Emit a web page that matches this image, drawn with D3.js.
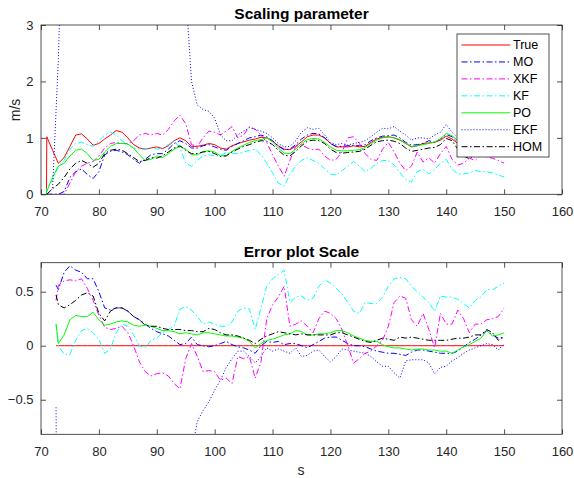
<!DOCTYPE html>
<html>
<head>
<meta charset="utf-8">
<script src="https://cdn.jsdelivr.net/npm/d3@7"></script>
<style>
body { margin: 0; background: #fff; }
text { font-family: "Liberation Sans", Arial, Helvetica, sans-serif; }
</style>
</head>
<body>
<script>
// time axes (s). top panel starts with the t=71 step, error panel starts at 72.6
var tTop = [70.95].concat(d3.range(71, 151));
var tErr = [72.6].concat(d3.range(73, 151));

var seriesNames = ["True", "MO", "XKF", "KF", "PO", "EKF", "HOM"];
var xTicks = [70, 80, 90, 100, 110, 120, 130, 140, 150, 160];
var yTicksTop = [0, 1, 2, 3];
var yTicksErr = [-0.5, 0, 0.5];

// ---- Scaling parameter (m/s) ----
var trueTop = [0,
  1.02, 0.78, 0.55, 0.65, 0.85, 1.05, 1.07, 0.98, 0.87, 0.9,
  0.98, 1.05, 1.13, 1.1, 1.0, 0.88, 0.82, 0.8, 0.82, 0.84,
  0.81, 0.86, 0.95, 1.0, 0.95, 0.85, 0.85, 0.87, 0.9, 0.88,
  0.82, 0.8, 0.86, 0.9, 0.93, 0.96, 0.98, 1.01, 1.0, 0.94,
  0.86, 0.8, 0.79, 0.85, 0.93, 1.02, 1.05, 1.05, 1.0, 0.9,
  0.84, 0.84, 0.84, 0.86, 0.84, 0.85, 0.92, 0.98, 1.01, 1.02,
  1.0, 0.96, 0.9, 0.84, 0.86, 0.9, 0.91, 0.92, 0.96, 1.03,
  0.98, 0.9, 0.86, 0.88, 0.92, 0.95, 0.98, 0.96, 0.92, 0.9];
var moTop = [0,
  0, 0, 0, 0.05, 0.3, 0.4, 0.45, 0.35, 0.28, 0.4,
  0.7, 0.76, 0.78, 0.75, 0.7, 0.62, 0.55, 0.62, 0.7, 0.72,
  0.72, 0.8, 0.9, 0.95, 0.9, 0.82, 0.82, 0.86, 0.88, 0.84,
  0.8, 0.78, 0.85, 0.9, 0.95, 1.0, 1.02, 1.05, 1.02, 0.95,
  0.85, 0.79, 0.8, 0.88, 0.98, 1.05, 1.08, 1.07, 1.0, 0.9,
  0.85, 0.85, 0.86, 0.87, 0.86, 0.88, 0.95, 1.0, 1.03, 1.04,
  1.05, 1.0, 0.92, 0.87, 0.88, 0.9, 0.95, 0.92, 0.98, 1.06,
  1.02, 0.92, 0.88, 0.9, 0.93, 0.96, 0.98, 0.97, 0.95, 0.93];
var xkfTop = [0,
  0, 0, 0, 0, 0.2, 0.4, 0.5, 0.55, 0.58, 0.68,
  0.82, 0.9, 0.92, 0.9, 0.9, 0.95, 1.05, 1.08, 1.05, 1.08,
  1.05, 1.15, 1.3, 1.4, 1.25, 0.88, 0.85, 1.0, 1.12, 1.1,
  1.05, 1.12, 1.2, 1.0, 1.05, 1.2, 1.15, 1.05, 0.92, 0.7,
  0.5, 0.32, 0.6, 0.85, 0.88, 0.82, 0.79, 0.8, 0.68, 0.6,
  0.62, 0.75, 1.0, 1.02, 0.9, 0.72, 0.62, 0.6, 0.8, 0.92,
  0.75, 0.55, 0.42, 0.5, 0.75, 0.57, 0.65, 0.55, 0.72, 0.85,
  0.62, 0.52, 0.55, 0.64, 0.6, 0.7, 0.66, 0.64, 0.6, 0.55];
var kfTop = [0,
  0.1, 0.25, 0.5, 0.6, 0.8, 0.9, 0.92, 0.88, 0.85, 0.95,
  1.05, 1.1, 1.05, 0.95, 0.88, 0.82, 0.8, 0.8, 0.82, 0.8,
  0.82, 0.88, 0.95, 0.82, 0.55, 0.5, 0.6, 0.68, 0.7, 0.68,
  0.68, 0.74, 0.72, 0.72, 0.75, 0.78, 0.8, 0.7, 0.55, 0.38,
  0.2, 0.14, 0.35, 0.5, 0.6, 0.65, 0.6, 0.55, 0.45, 0.36,
  0.34, 0.42, 0.5, 0.58, 0.5, 0.4, 0.46, 0.55, 0.6, 0.6,
  0.52, 0.38, 0.26, 0.22, 0.4, 0.44, 0.36, 0.44, 0.55, 0.62,
  0.45, 0.36, 0.36, 0.38, 0.42, 0.4, 0.4, 0.38, 0.34, 0.31];
var poTop = [0,
  0.05, 0.3, 0.5, 0.55, 0.68, 0.78, 0.8, 0.72, 0.6, 0.62,
  0.75, 0.85, 0.9, 0.9, 0.89, 0.82, 0.7, 0.6, 0.62, 0.68,
  0.65, 0.72, 0.8, 0.85, 0.8, 0.7, 0.7, 0.76, 0.77, 0.75,
  0.68, 0.69, 0.76, 0.82, 0.87, 0.92, 0.95, 0.97, 1.0, 0.93,
  0.82, 0.73, 0.72, 0.8, 0.9, 0.97, 0.99, 0.98, 0.92, 0.84,
  0.78, 0.77, 0.77, 0.78, 0.79, 0.83, 0.9, 0.96, 1.0, 1.01,
  1.0, 0.97, 0.9, 0.85, 0.86, 0.88, 0.9, 0.93, 0.98, 1.08,
  1.04, 0.95, 0.9, 0.9, 0.93, 0.96, 0.98, 0.96, 0.93, 0.92];
var ekfTop = [0,
  0, 0.1, 2.4, 6, 6, 6, 6, 6, 6, 6,
  6, 6, 6, 6, 6, 6, 6, 6, 6, 6,
  6, 6, 6, 6, 3.6, 2.0, 1.58, 1.5, 1.47, 1.35,
  1.05, 0.95, 0.95, 1.05, 1.12, 1.18, 1.15, 1.12, 1.08, 1.0,
  0.9, 0.84, 0.85, 0.95, 1.1, 1.18, 1.15, 1.17, 1.05, 0.92,
  0.88, 0.9, 0.87, 0.9, 0.92, 0.95, 1.02, 1.1, 1.17, 1.16,
  1.2, 1.12, 1.05, 0.96, 1.0, 1.0, 0.98, 1.05, 1.1, 1.24,
  1.1, 1.0, 0.95, 0.98, 1.0, 1.02, 1.05, 1.0, 0.98, 0.96];
var homTop = [0,
  0, 0.1, 0.18, 0.3, 0.45, 0.55, 0.6, 0.55, 0.48, 0.55,
  0.72, 0.78, 0.8, 0.78, 0.72, 0.65, 0.58, 0.6, 0.65, 0.64,
  0.68, 0.75, 0.82, 0.86, 0.78, 0.72, 0.72, 0.75, 0.76, 0.72,
  0.67, 0.68, 0.75, 0.8, 0.85, 0.88, 0.92, 0.95, 0.94, 0.88,
  0.78, 0.69, 0.68, 0.76, 0.86, 0.94, 0.96, 0.95, 0.9, 0.8,
  0.74, 0.73, 0.74, 0.75, 0.76, 0.8, 0.87, 0.93, 0.95, 0.96,
  0.94, 0.9, 0.82, 0.76, 0.78, 0.8, 0.82, 0.83, 0.88, 0.99,
  0.95, 0.8, 0.68, 0.63, 0.7, 0.8, 0.85, 0.85, 0.82, 0.8];

// ---- Error plot Scale ----
var trueErr = [0,
  0, 0, 0, 0, 0, 0, 0, 0,
  0, 0, 0, 0, 0, 0, 0, 0, 0, 0,
  0, 0, 0, 0, 0, 0, 0, 0, 0, 0,
  0, 0, 0, 0, 0, 0, 0, 0, 0, 0,
  0, 0, 0, 0, 0, 0, 0, 0, 0, 0,
  0, 0, 0, 0, 0, 0, 0, 0, 0, 0,
  0, 0, 0, 0, 0, 0, 0, 0, 0, 0,
  0, 0, 0, 0, 0, 0, 0, 0, 0, 0];
var moErr = [0.56,
  0.52, 0.68, 0.74, 0.7, 0.68, 0.62, 0.62, 0.5,
  0.35, 0.33, 0.35, 0.35, 0.32, 0.27, 0.24, 0.2, 0.16, 0.13,
  0.11, 0.09, 0.05, 0.01, 0.02, 0.08, 0.01, 0.0, -0.01, 0.0,
  0.02, 0.04, 0.01, -0.01, -0.02, -0.04, -0.07, 0.0, 0.04, 0.03,
  0.04, 0.01, 0.02, 0.02, 0.0, -0.02, 0.01, 0.04, 0.07, 0.08,
  0.08, 0.05, 0.02, 0.0, 0.0, -0.01, -0.03, -0.05, -0.06, -0.07,
  -0.07, -0.08, -0.09, -0.06, -0.04, -0.04, -0.05, -0.06, -0.07, -0.07,
  -0.07, -0.05, -0.01, 0.03, 0.06, 0.1, 0.14, 0.1, 0.07, 0.08];
var xkfErr = [0.42,
  0.56, 0.6, 0.61, 0.6, 0.62, 0.53, 0.42, 0.28,
  0.17, 0.15, 0.16, 0.18, 0.12, 0.0, -0.15, -0.24, -0.28, -0.26,
  -0.25, -0.28, -0.35, -0.4, -0.12, 0.02, -0.1, -0.24, -0.23, -0.24,
  -0.32, -0.3, -0.35, -0.1, -0.12, -0.1, -0.3, -0.15, 0.25, 0.38,
  0.45, 0.55, 0.18, 0.2, 0.23, 0.18, 0.12, 0.25, 0.32, 0.3,
  0.25, 0.15, 0.0, -0.16, -0.12, -0.07, -0.05, 0.0, 0.05, 0.18,
  0.4, 0.46, 0.44, 0.24, 0.18, 0.3, 0.15, -0.02, 0.3, 0.2,
  0.2, 0.33, 0.25, 0.12, 0.2, 0.2, 0.24, 0.25, 0.27, 0.35];
var kfErr = [0.2,
  0.0, -0.08, -0.08, 0.05, 0.14, 0.16, 0.12, 0.06,
  -0.07, -0.03, 0.12, 0.2, 0.18, 0.1, 0.0, -0.02, 0.05, 0.07,
  0.12, 0.15, 0.18, 0.34, 0.36, 0.33, 0.27, 0.2, 0.22, 0.2,
  0.18, 0.18, 0.22, 0.32, 0.35, 0.34, 0.15, 0.35, 0.55, 0.62,
  0.66, 0.7, 0.4, 0.45, 0.46, 0.42, 0.44, 0.55, 0.61, 0.58,
  0.53, 0.48, 0.4, 0.32, 0.3, 0.4, 0.39, 0.39, 0.45, 0.55,
  0.62, 0.63, 0.62, 0.55, 0.5, 0.45, 0.4, 0.32, 0.46, 0.45,
  0.45, 0.43, 0.39, 0.35, 0.42, 0.45, 0.52, 0.52, 0.55, 0.58];
var poErr = [0.2,
  0.02, 0.1, 0.24, 0.28, 0.27, 0.27, 0.31, 0.24,
  0.19, 0.2, 0.22, 0.23, 0.22, 0.19, 0.18, 0.19, 0.18, 0.16,
  0.14, 0.14, 0.13, 0.11, 0.12, 0.11, 0.1, 0.12, 0.12, 0.11,
  0.1, 0.09, 0.09, 0.08, 0.07, 0.04, -0.02, 0.02, 0.05, 0.06,
  0.08, 0.1, 0.11, 0.14, 0.13, 0.1, 0.1, 0.11, 0.11, 0.12,
  0.14, 0.14, 0.12, 0.09, 0.07, 0.05, 0.04, 0.04, 0.01, -0.01,
  -0.02, -0.02, -0.03, -0.04, -0.03, -0.03, -0.04, -0.04, -0.05, -0.05,
  -0.07, -0.04, -0.01, 0.01, 0.04, 0.07, 0.14, 0.09, 0.1, 0.12];
var ekfErr = [-0.57,
  -4, -4, -4, -4, -4, -4, -4, -4,
  -4, -4, -4, -4, -4, -4, -4, -4, -4, -4,
  -4, -4, -4, -4, -4, -1.0, -0.7, -0.6, -0.52, -0.41,
  -0.32, -0.2, -0.12, -0.05, -0.05, -0.1, -0.16, -0.1, -0.02, -0.05,
  -0.03, -0.05, -0.07, -0.02, -0.1, -0.09, -0.05, -0.04, -0.1, -0.15,
  -0.1, -0.03, -0.04, -0.05, -0.06, -0.07, -0.1, -0.15, -0.19, -0.19,
  -0.25, -0.3, -0.14, -0.13, -0.13, -0.13, -0.16, -0.26, -0.2, -0.19,
  -0.14, -0.11, -0.07, -0.04, -0.02, 0.0, 0.02, 0.01, -0.04, 0.02];
var homErr = [0.47,
  0.38, 0.35, 0.38, 0.42, 0.47, 0.49, 0.46, 0.3,
  0.23, 0.32, 0.35, 0.35, 0.32, 0.27, 0.24, 0.19, 0.18, 0.18,
  0.16, 0.15, 0.15, 0.15, 0.14, 0.14, 0.13, 0.13, 0.16, 0.15,
  0.12, 0.1, 0.1, 0.09, 0.07, 0.05, 0.02, 0.06, 0.09, 0.11,
  0.13, 0.12, 0.11, 0.1, 0.11, 0.1, 0.1, 0.1, 0.1, 0.1,
  0.12, 0.12, 0.1, 0.08, 0.06, 0.04, 0.03, 0.05, 0.07, 0.06,
  0.05, 0.08, 0.07, 0.08, 0.07, 0.06, 0.05, 0.05, 0.05, 0.05,
  0.06, 0.07, 0.07, 0.08, 0.1, 0.1, 0.15, 0.12, 0.05, 0.08];

var topSeries = [trueTop, moTop, xkfTop, kfTop, poTop, ekfTop, homTop];
var errSeries = [trueErr, moErr, xkfErr, kfErr, poErr, ekfErr, homErr];

// matlab-ish line specs
var lineColor = ["#ff0000", "#0000ff", "#ff00ff", "#00ffff", "#00ff00", "#0000ff", "#000000"];
var lineDash = [null, "6,2.5,1.5,2.5", "6,2.5,1.5,2.5", "6,2.5,1.5,2.5", null, "1,2", "6,2.5,1.5,2.5"];

var axisColor = "#262626";

var svg = d3.select("body").append("svg").attr("width", 574).attr("height", 478);

var x = d3.scaleLinear().domain([70, 160]).range([41, 562]);
var yTop = d3.scaleLinear().domain([0, 3]).range([194.3, 25]);
var yErr = d3.scaleLinear().domain([-0.82, 0.7685]).range([434.3, 262.7]);

function drawPanel(id, t, data, y, yTicks, title) {
	var g = svg.append("g").attr("class", id);
	var x0 = x.range()[0], x1 = x.range()[1];
	var yB = y.range()[0], yT = y.range()[1];

	g.append("clipPath").attr("id", "clip-" + id)
		.append("rect").attr("x", x0).attr("y", yT).attr("width", x1 - x0).attr("height", yB - yT);

	// lines
	var lines = g.append("g").attr("clip-path", "url(#clip-" + id + ")");
	data.forEach(function(vals, i) {
		var line = d3.line()
			.x(function(d, j) { return x(t[j]); })
			.y(function(d) { return y(d); });
		lines.append("path")
			.attr("fill", "none")
			.attr("stroke", lineColor[i])
			.attr("stroke-width", 1)
			.attr("stroke-dasharray", lineDash[i])
			.attr("d", line(vals));
	});

	// axes, ticks pointing in
	var ax = g.append("g").attr("transform", "translate(0," + yB + ")")
		.call(d3.axisBottom(x).tickValues(xTicks).tickSize(-5).tickPadding(12.5));
	var axT = g.append("g").attr("transform", "translate(0," + yT + ")")
		.call(d3.axisTop(x).tickValues(xTicks).tickSize(-5).tickFormat(""));
	var ay = g.append("g").attr("transform", "translate(" + x0 + ",0)")
		.call(d3.axisLeft(y).tickValues(yTicks).tickSize(-5).tickPadding(7.5).tickFormat(d3.format("")));
	var ayR = g.append("g").attr("transform", "translate(" + x1 + ",0)")
		.call(d3.axisRight(y).tickValues(yTicks).tickSize(-5).tickFormat(""));

	[ax, axT, ay, ayR].forEach(function(a) {
		a.select(".domain").remove();
		a.selectAll("line").attr("stroke", axisColor).attr("stroke-width", 0.8);
		a.selectAll("text").attr("fill", axisColor).style("font-size", "13px");
	});

	g.append("rect")
		.attr("x", x0).attr("y", yT).attr("width", x1 - x0).attr("height", yB - yT)
		.attr("fill", "none").attr("stroke", axisColor).attr("stroke-width", 0.8);

	g.append("text")
		.attr("x", (x0 + x1) / 2).attr("y", yT - 6)
		.attr("text-anchor", "middle")
		.style("font-size", "15.5px").style("font-weight", "bold")
		.text(title);
}

drawPanel("top", tTop, topSeries, yTop, yTicksTop, "Scaling parameter");
drawPanel("err", tErr, errSeries, yErr, yTicksErr, "Error plot Scale");

// axis labels
svg.append("text")
	.attr("transform", "translate(20,110) rotate(-90)")
	.attr("text-anchor", "middle").attr("fill", axisColor)
	.style("font-size", "14px")
	.text("m/s");
svg.append("text")
	.attr("x", 301).attr("y", 475)
	.attr("text-anchor", "middle").attr("fill", axisColor)
	.style("font-size", "14px")
	.text("s");

// legend (top panel)
var leg = svg.append("g").attr("transform", "translate(457,34)");
leg.append("rect").attr("width", 92).attr("height", 123)
	.attr("fill", "#fff").attr("stroke", axisColor).attr("stroke-width", 0.8);
seriesNames.forEach(function(name, i) {
	var ly = 11 + i * 16.95;
	leg.append("line")
		.attr("x1", 4.5).attr("x2", 53).attr("y1", ly).attr("y2", ly)
		.attr("stroke", lineColor[i]).attr("stroke-width", 1)
		.attr("stroke-dasharray", lineDash[i]);
	leg.append("text")
		.attr("x", 56).attr("y", ly).attr("dy", "0.35em")
		.attr("fill", "#000")
		.style("font-size", "12.5px")
		.text(name);
});
</script>
</body>
</html>
